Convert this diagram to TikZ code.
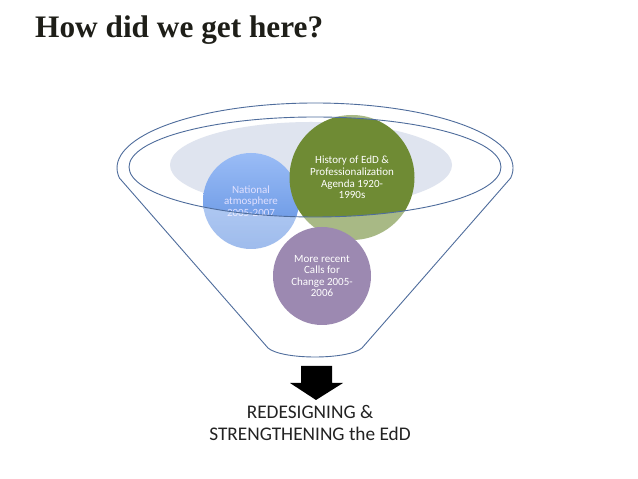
\documentclass[tikz,border=0pt]{standalone}
\usepackage{fontspec}
\setmainfont{Carlito}
\newfontfamily\titlefont{Liberation Serif}
\definecolor{funnel}{HTML}{4F6D9C}
\definecolor{rimgray}{HTML}{DFE4EF}
\definecolor{bluetop}{HTML}{9ABCF6}
\definecolor{bluebot}{HTML}{5E8FE0}
\definecolor{olive}{HTML}{6F8B34}
\definecolor{lilac}{HTML}{9C89B1}
\definecolor{titlecol}{HTML}{1E1E18}
\definecolor{textdark}{HTML}{222222}
\begin{document}
\begin{tikzpicture}[x=1pt,y=1pt,
  bubble/.style={circle, inner sep=0pt, align=center, font=\fontsize{11}{11.6}\selectfont, text=white},
  funnelline/.style={draw=funnel, line width=0.9pt}]
\useasboundingbox[fill=white] (0,0) rectangle (638,479);
\node[anchor=base west, font=\titlefont\bfseries\fontsize{31.3}{36}\selectfont, text=titlecol, inner sep=0pt] (title) at (35,441) {How did we get here?};
\fill[rimgray] (311,314) ellipse[x radius=141, y radius=43];
\node[bubble, minimum size=96pt, top color=bluetop, bottom color=bluebot, text=white!88!blue] (natl) at (251,278) {National\\atmosphere\\2005-2007};
\node[bubble, minimum size=125pt, fill=olive] (hist) at (352,301.5) {History of EdD \&\\Professionalization\\Agenda 1920-\\1990s};
\fill[white, opacity=0.4, even odd rule] (119.4,301) arc[start angle=188.85, end angle=-8.85, x radius=198, y radius=65] -- (362,131) .. controls (348,119) and (282,119) .. (268,131) -- cycle (315,312) ellipse[x radius=186, y radius=50];
\node[bubble, minimum size=98pt, fill=lilac] (calls) at (322,203) {More recent\\Calls for\\Change 2005-\\2006};
\draw[funnelline, line join=round] (119.4,301) arc[start angle=188.85, end angle=-8.85, x radius=198, y radius=65] -- (362,131) .. controls (348,119) and (282,119) .. (268,131) -- cycle;
\draw[funnelline] (315,312) ellipse[x radius=186, y radius=50];
\fill[black] (301,113) -- (332,113) -- (332,96) -- (343,96) -- (316,79) -- (290,96) -- (301,96) -- cycle;
\node[font=\fontsize{19.3}{21.5}\selectfont, align=center, text=textdark, inner sep=0pt] (result) at (310,56) {REDESIGNING \&\\STRENGTHENING the EdD};
\end{tikzpicture}
\end{document}
